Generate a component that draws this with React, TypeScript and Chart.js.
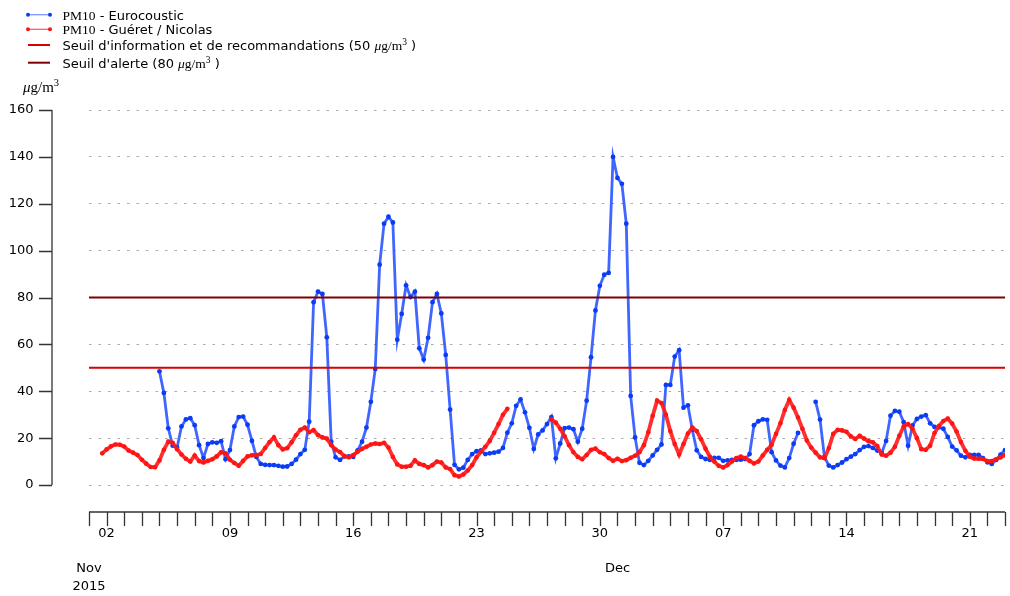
import React, { useEffect, useRef } from 'react';
import { Chart, registerables } from 'chart.js';

Chart.register(...registerables);

// ---- Data (days counted from 2015-11-01 00:00, one sample every 6 hours) ----
const STEP_DAYS = 0.25;
const GUERET_START_DAY = 0;
const EUROCOUSTIC_START_DAY = 4;
const X_MIN_DAY = 0;
const X_MAX_DAY = 52;

const Y_TICKS = [0, 20, 40, 60, 80, 100, 120, 140, 160];
const WEEK_TICK_DAYS = [1, 8, 15, 22, 29, 36, 43, 50];
const WEEK_TICK_LABELS = ['02', '09', '16', '23', '30', '07', '14', '21'];
const MONTH_TICK_DAYS = [0, 30];
const MONTH_TICK_LABELS = [['Nov', '2015'], ['Dec']];

const SEUIL_INFORMATION = 50;
const SEUIL_ALERTE = 80;

// PM10 - Guéret / Nicolas (µg/m3), from Nov 1
const gueretPM10: (number | null)[] = [
  null, null, null, 13.5,
  15.2, 16.5, 17.3, 17.2,
  16.4, 14.7, 13.8, 12.8,
  10.8, 9.1, 7.7, 7.6,
  10.5, 15.0, 18.5, 18.0,
  15.3, 13.0, 11.2, 10.0,
  12.6, 10.2, 9.6, 10.3,
  11.0, 12.2, 14.0, 13.5,
  10.8, 9.4, 8.2, 10.3,
  12.2, 12.7, 12.8, 13.2,
  15.8, 18.3, 20.3, 17.0,
  15.2, 15.7, 18.2, 21.2,
  23.6, 24.5, 22.5, 23.4,
  21.3, 20.3, 19.8, 17.0,
  15.1, 14.1, 12.3, 11.8,
  12.8, 14.2, 15.4, 16.3,
  17.3, 17.7, 17.5, 18.0,
  16.0, 12.0, 8.8, 7.8,
  7.8, 8.2, 10.5, 9.0,
  8.5, 7.5, 8.5, 10.0,
  9.6, 7.5, 6.8, 4.2,
  3.6, 4.5, 6.2, 8.5,
  11.8, 14.2, 16.3, 18.8,
  22.3, 26.0, 30.0, 32.5,
  null, null, null, null,
  null, null, null, null,
  null, 28.0, 26.6, 24.0,
  20.8, 17.0, 14.0, 12.0,
  11.0, 12.8, 15.0, 15.5,
  14.0, 13.2, 11.5, 10.3,
  11.2, 10.2, 10.6, 11.6,
  12.5, 14.0, 17.0, 22.5,
  29.5, 36.0, 35.0, 30.0,
  23.0, 17.5, 13.0, 17.5,
  22.0, 24.5, 23.0, 19.5,
  15.5, 12.0, 10.0, 8.2,
  7.5, 8.5, 10.0, 11.5,
  12.1, 11.5, 10.3, 9.2,
  10.0, 12.6, 15.0, 17.2,
  21.8, 26.3, 32.0, 36.3,
  33.0, 28.8, 24.0, 19.0,
  16.0, 13.8, 11.8, 11.4,
  15.8, 21.8, 23.5, 23.3,
  22.7, 20.8, 19.6, 21.0,
  19.8, 18.7, 18.2, 16.6,
  13.0, 12.5, 13.8, 16.3,
  21.0, 25.0, 26.0, 24.0,
  20.0, 15.3, 15.0, 16.8,
  22.2, 25.2, 27.3, 28.3,
  26.2, 22.8, 18.3, 14.6,
  12.1, 11.3, 11.2, 11.1,
  10.2, 10.2, 11.0, 11.8,
  12.8,
];

// PM10 - Eurocoustic (µg/m3), from Nov 5
const eurocousticPM10: (number | null)[] = [
  48.5, 39.3, 24.2, 16.8,
  16.0, 25.0, 28.0, 28.5,
  25.5, 17.0, 11.5, 17.5,
  18.2, 18.0, 18.7, 11.0,
  14.9, 25.0, 29.0, 29.2,
  25.7, 18.8, 12.0, 9.0,
  8.6, 8.5, 8.5, 8.2,
  7.8, 7.9, 9.0, 10.8,
  13.2, 15.0, 27.0, 78.0,
  82.5, 81.5, 63.0, 18.5,
  11.8, 10.7, 12.2, 12.2,
  12.0, 14.8, 18.5, 24.5,
  35.5, 49.5, 94.0, 111.5,
  114.5, 112.0, 62.0, 73.0,
  85.2, 80.2, 82.5, 58.3,
  53.5, 62.8, 78.0, 81.5,
  73.2, 55.5, 32.2, 8.6,
  6.7, 7.4, 10.7, 13.2,
  14.4, 14.8, 13.2, 13.5,
  13.8, 14.2, 15.8, 22.3,
  26.3, 33.8, 36.5, 31.0,
  24.4, 15.4, 21.6, 23.3,
  26.0, 29.0, 11.4, 17.7,
  24.3, 24.5, 23.8, 18.5,
  24.0, 36.0, 54.5, 74.5,
  85.0, 89.7, 90.5, 140.0,
  131.0, 128.5, 111.5, 38.0,
  20.3, 9.5, 8.5, 10.3,
  12.6, 15.0, 17.3, 42.7,
  42.7, 54.8, 57.5, 33.0,
  34.0, 23.5, 14.8, 12.0,
  11.1, 10.7, 11.6, 11.6,
  10.3, 10.5, 10.7, 10.7,
  10.8, 11.1, 13.2, 25.5,
  27.2, 28.0, 27.8, 14.0,
  10.5, 8.3, 7.5, 11.5,
  17.6, 22.2, null, null,
  null, 35.5, 27.9, 12.0,
  8.3, 7.5, 8.5, 9.6,
  11.0, 12.1, 13.2, 14.9,
  16.3, 16.6, 15.8, 14.7,
  13.7, 18.8, 29.6, 31.6,
  31.3, 26.8, 16.8, 25.4,
  28.2, 29.2, 29.8, 26.3,
  24.8, 24.6, 24.0, 20.5,
  16.4, 14.8, 12.5, 11.8,
  12.8, 12.8, 12.8, 11.5,
  9.7, 9.0, 10.7, 13.0,
  14.9,
];

const toPoints = (vals: (number | null)[], start: number) =>
  vals.map((v, i) => ({ x: start + i * STEP_DAYS, y: v }));

// ---- styles ----
const BLUE_PT = '#0b3cf5';
const BLUE_LINE = 'rgba(30,75,255,0.85)';
const RED_PT = '#ff1414';
const RED_LINE = 'rgba(255,25,25,0.9)';
const INFO_COLOR = '#d80000';
const ALERTE_COLOR = '#7c0000';
const AXIS_COLOR = '#333333';

const SANS = '13px "DejaVu Sans"';
const SERIF = '13.5px "Liberation Serif"';
const SERIF_I = 'italic 13.5px "Liberation Serif"';
const SUP = '9.5px "Liberation Serif"';

type Part = { t: string; font: string; dy?: number };

function drawRich(ctx: CanvasRenderingContext2D, x: number, y: number, parts: Part[]) {
  let cx = x;
  for (const p of parts) {
    ctx.font = p.font;
    ctx.fillText(p.t, cx, y + (p.dy || 0));
    cx += ctx.measureText(p.t).width;
  }
}

const unitParts = (big: string, italic: string, sup: string, supDy: number): Part[] => [
  { t: 'μ', font: italic },
  { t: 'g/m', font: big },
  { t: '3', font: sup, dy: supDy },
];

const decorPlugin = {
  id: 'decor',
  afterDraw(chart: any) {
    const ctx: CanvasRenderingContext2D = chart.ctx;
    const xs = chart.scales.x;
    const ys = chart.scales.y;
    ctx.save();
    ctx.strokeStyle = AXIS_COLOR;
    ctx.lineWidth = 1.3;
    // offset y spine
    const yTop = ys.getPixelForValue(Y_TICKS[Y_TICKS.length - 1]);
    const yBot = ys.getPixelForValue(Y_TICKS[0]);
    ctx.beginPath();
    ctx.moveTo(52, yTop);
    ctx.lineTo(52, yBot);
    for (const t of Y_TICKS) {
      const py = Math.round(ys.getPixelForValue(t)) + 0.5;
      ctx.moveTo(39, py);
      ctx.lineTo(52, py);
    }
    ctx.stroke();
    // offset x spine
    const spineY = 512;
    ctx.beginPath();
    ctx.moveTo(xs.getPixelForValue(X_MIN_DAY), spineY);
    ctx.lineTo(xs.getPixelForValue(X_MAX_DAY), spineY);
    for (let d = X_MIN_DAY; d <= X_MAX_DAY; d++) {
      const px = Math.round(xs.getPixelForValue(d)) + 0.5;
      ctx.moveTo(px, spineY);
      ctx.lineTo(px, spineY + 14);
    }
    ctx.stroke();

    // legend
    ctx.textBaseline = 'alphabetic';
    ctx.textAlign = 'left';
    ctx.fillStyle = '#000';
    const rows = [
      { ly: 14.7, by: 19.5, line: 'rgba(35,80,255,0.6)', pt: BLUE_PT, w: 1.3, parts: [{ t: 'PM10', font: SERIF }, { t: ' - Eurocoustic', font: SANS }] },
      { ly: 29.3, by: 34, line: 'rgba(255,25,25,0.7)', pt: RED_PT, w: 1.3, parts: [{ t: 'PM10', font: SERIF }, { t: ' - Guéret / Nicolas', font: SANS }] },
      { ly: 45, by: 50, line: INFO_COLOR, pt: null, w: 2, parts: [{ t: "Seuil d'information et de recommandations (50 ", font: SANS }, ...unitParts(SERIF, SERIF_I, SUP, -5.5), { t: ' )', font: SANS }] },
      { ly: 62.7, by: 68, line: ALERTE_COLOR, pt: null, w: 2, parts: [{ t: "Seuil d'alerte (80 ", font: SANS }, ...unitParts(SERIF, SERIF_I, SUP, -5.5), { t: ' )', font: SANS }] },
    ];
    for (const r of rows) {
      ctx.strokeStyle = r.line;
      ctx.lineWidth = r.w;
      ctx.beginPath();
      ctx.moveTo(28, r.ly);
      ctx.lineTo(50, r.ly);
      ctx.stroke();
      if (r.pt) {
        ctx.fillStyle = r.pt;
        for (const px of [28, 50]) {
          ctx.beginPath();
          ctx.arc(px, r.ly, 2, 0, Math.PI * 2);
          ctx.fill();
        }
      }
      ctx.fillStyle = '#000';
      drawRich(ctx, 62.5, r.by, r.parts as Part[]);
    }
    // y unit label
    drawRich(ctx, 23, 92, unitParts('15px "Liberation Serif"', 'italic 15px "Liberation Serif"', '10.5px "Liberation Serif"', -6.5));
    ctx.restore();
  },
};

export default function App() {
  const ref = useRef<HTMLCanvasElement | null>(null);
  useEffect(() => {
    document.body.style.margin = '0';
    const canvas = ref.current;
    if (!canvas) return;
    const xTickValues = Array.from({ length: X_MAX_DAY - X_MIN_DAY + 1 }, (_, i) => X_MIN_DAY + i);
    const chart = new Chart(canvas, {
      type: 'line',
      data: {
        datasets: [
          {
            label: "Seuil d'alerte",
            data: [{ x: X_MIN_DAY, y: SEUIL_ALERTE }, { x: X_MAX_DAY, y: SEUIL_ALERTE }],
            borderColor: ALERTE_COLOR,
            borderWidth: 2,
            pointRadius: 0,
            order: 0,
          },
          {
            label: "Seuil d'information",
            data: [{ x: X_MIN_DAY, y: SEUIL_INFORMATION }, { x: X_MAX_DAY, y: SEUIL_INFORMATION }],
            borderColor: INFO_COLOR,
            borderWidth: 2,
            pointRadius: 0,
            order: 0,
          },
          {
            label: 'PM10 - Guéret / Nicolas',
            data: toPoints(gueretPM10, GUERET_START_DAY),
            borderColor: RED_LINE,
            borderWidth: 3.8,
            pointRadius: 2.3,
            pointBorderWidth: 0,
            pointBackgroundColor: RED_PT,
            spanGaps: false,
            order: 1,
          },
          {
            label: 'PM10 - Eurocoustic',
            data: toPoints(eurocousticPM10, EUROCOUSTIC_START_DAY),
            borderColor: BLUE_LINE,
            borderWidth: 2.8,
            pointRadius: 2.4,
            pointBorderWidth: 0,
            pointBackgroundColor: BLUE_PT,
            spanGaps: false,
            order: 2,
          },
        ],
      },
      options: {
        animation: false,
        responsive: false,
        devicePixelRatio: 1,
        layout: { padding: { top: 110, left: 0, right: 5, bottom: 0 }, autoPadding: false },
        plugins: { legend: { display: false }, tooltip: { enabled: false } },
        scales: {
          x: {
            type: 'linear',
            position: 'bottom',
            min: X_MIN_DAY,
            max: X_MAX_DAY,
            grid: { display: false, drawTicks: false },
            border: { display: false },
            afterBuildTicks: (scale: any) => {
              scale.ticks = xTickValues.map((v) => ({ value: v }));
            },
            afterFit: (scale: any) => {
              scale.height = 111;
              scale.paddingLeft = 0;
              scale.paddingRight = 0;
            },
            ticks: {
              autoSkip: false,
              maxRotation: 0,
              minRotation: 0,
              padding: 39.2,
              color: '#000',
              font: { family: 'DejaVu Sans', size: 13, lineHeight: 1.38 },
              callback: (value: any) => {
                const d = Math.round(Number(value));
                const m = MONTH_TICK_DAYS.indexOf(d);
                if (m >= 0) return ['', '', ...MONTH_TICK_LABELS[m]];
                const w = WEEK_TICK_DAYS.indexOf(d);
                if (w >= 0) return WEEK_TICK_LABELS[w];
                return '';
              },
            },
          },
          y: {
            type: 'linear',
            min: Y_TICKS[0],
            max: Y_TICKS[Y_TICKS.length - 1],
            grid: { display: true, drawTicks: false, color: '#a8a8a8', lineWidth: 1 },
            border: { display: false, dash: [2.5, 7] },
            afterBuildTicks: (scale: any) => {
              scale.ticks = Y_TICKS.map((v) => ({ value: v }));
            },
            afterFit: (scale: any) => {
              scale.width = 89;
              scale.paddingTop = 0;
              scale.paddingBottom = 0;
            },
            ticks: {
              padding: 55.5,
              color: '#000',
              font: { family: 'DejaVu Sans', size: 13 },
              callback: (v: any) => String(v),
            },
          },
        },
      },
      plugins: [decorPlugin],
    } as any);
    return () => chart.destroy();
  }, []);
  return (
    <div style={{ width: 1010, height: 596, position: 'relative' }}>
      <canvas ref={ref} width={1010} height={596} style={{ display: 'block', width: 1010, height: 596 }} />
    </div>
  );
}
